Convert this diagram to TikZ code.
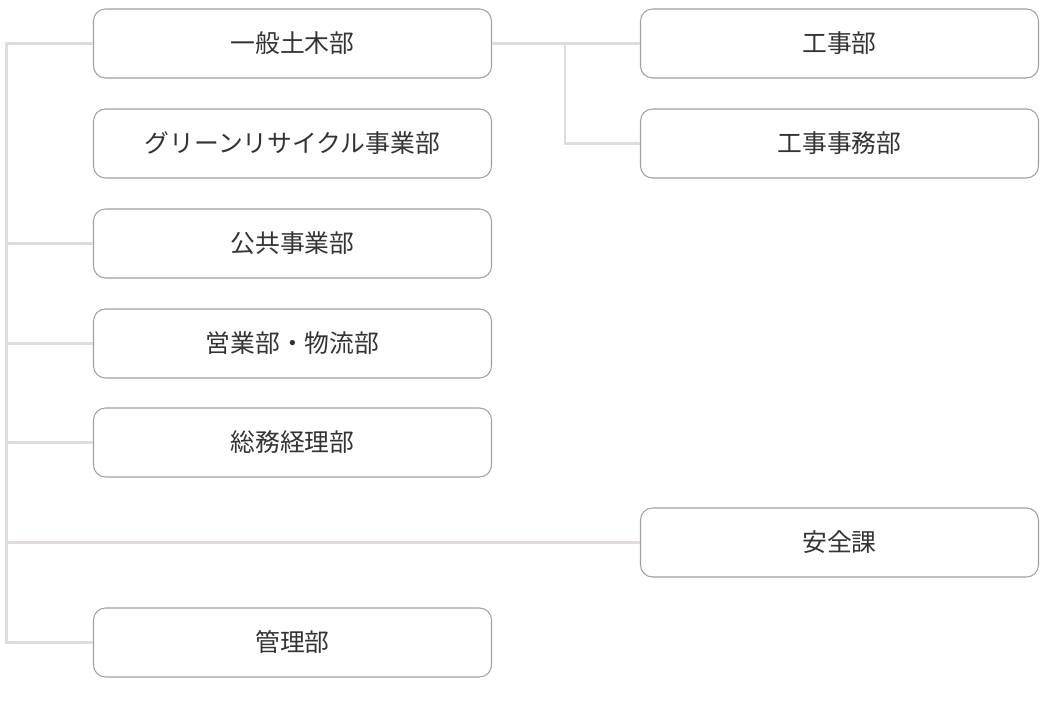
\documentclass[tikz,border=0pt]{standalone}
\usepackage{fontspec}
\setmainfont{Noto Sans CJK JP}
\begin{document}
\begin{tikzpicture}[x=0.75pt,y=-0.75pt,
  box/.style={draw=boxgray,line width=0.8pt,rounded corners=9pt,minimum width=298.5pt,minimum height=51.75pt,inner sep=0pt,font=\fontsize{18.6}{20}\selectfont,text=black!80},
  conn/.style={draw=linegray,line width=2.2pt}]
\definecolor{boxgray}{HTML}{A0A0A0}
\definecolor{linegray}{HTML}{E0DCDC}
\useasboundingbox (0,0) rectangle (1047,705);
\node[box] (a) at (292.5,43.5) {一般土木部};
\node[box] (b) at (292.5,143.5) {グリーンリサイクル事業部};
\node[box] (c) at (292.5,243.5) {公共事業部};
\node[box] (d) at (292.5,343.5) {営業部・物流部};
\node[box] (e) at (292.5,442.5) {総務経理部};
\node[box] (g) at (292.5,642.5) {管理部};
\node[box] (r1) at (839.5,43.5) {工事部};
\node[box] (r2) at (839.5,143.5) {工事事務部};
\node[box] (s) at (839.5,542.5) {安全課};
\coordinate (top) at (6.5,43.5);
\coordinate (bot) at (6.5,642.5);
\coordinate (j) at (565,43.5);
\draw[conn] (a.west) -- (top) -- (bot) -- (g.west);
\draw[conn] (c.west) -- (c.west -| top);
\draw[conn] (d.west) -- (d.west -| top);
\draw[conn] (e.west) -- (e.west -| top);
\draw[conn] (s.west) -- (s.west -| top);
\draw[conn] (a.east) -- (r1.west);
\draw[conn] (j) -- (j |- r2.west) -- (r2.west);
\end{tikzpicture}
\end{document}
